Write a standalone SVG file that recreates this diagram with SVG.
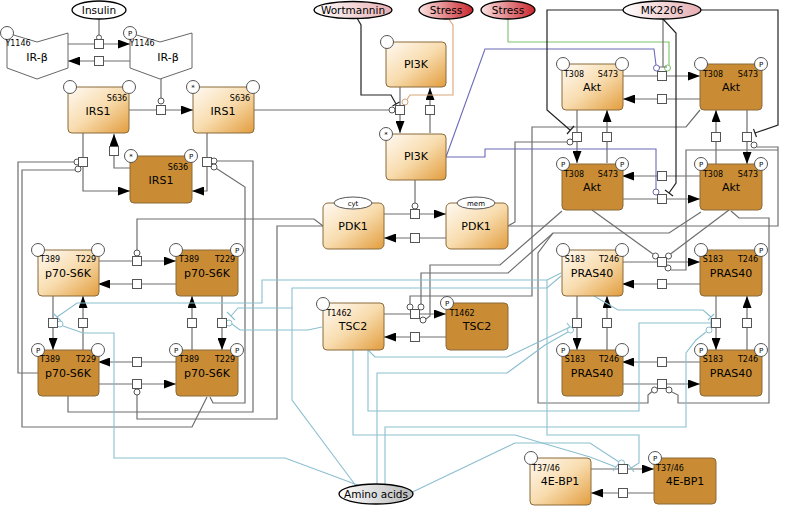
<svg xmlns="http://www.w3.org/2000/svg" width="786" height="514" viewBox="0 0 786 514">
<defs>
<linearGradient id="gl" x1="0" y1="0" x2="1" y2="1">
<stop offset="0" stop-color="#fffaf3"/><stop offset="0.5" stop-color="#f8dcae"/><stop offset="1" stop-color="#e29d3e"/>
</linearGradient>
<linearGradient id="gpink" x1="0" y1="0" x2="1" y2="0">
<stop offset="0" stop-color="#ffffff"/><stop offset="1" stop-color="#e6aeb2"/>
</linearGradient>
<linearGradient id="gred" x1="0" y1="0" x2="1" y2="0">
<stop offset="0" stop-color="#fbe4e4"/><stop offset="1" stop-color="#c9262d"/>
</linearGradient>
<linearGradient id="ggray" x1="0" y1="0" x2="1" y2="0">
<stop offset="0" stop-color="#ffffff"/><stop offset="1" stop-color="#b8b8b8"/>
</linearGradient>
<marker id="a" viewBox="0 0 12 9" refX="12" refY="4.5" markerWidth="12" markerHeight="9" markerUnits="userSpaceOnUse" orient="auto">
<path d="M0,0L12,4.5L0,9z" fill="#000"/>
</marker>
</defs>
<style>
.n{stroke:#8a6a3a;stroke-width:1}
.l{fill:url(#gl)}
.d{fill:#c98c35}
.sv{fill:#fff;stroke:#555;stroke-width:1}
.c{fill:none;stroke:#6e6e6e;stroke-width:1.2}
.k{fill:none;stroke:#222;stroke-width:1.2}
.b{fill:none;stroke:#8bbfd0;stroke-width:1.1}
.bl{fill:none;stroke:#6b6bb8;stroke-width:1.1}
.g{fill:none;stroke:#7cc16b;stroke-width:1.1}
.tn{fill:none;stroke:#d7a57a;stroke-width:1.1}
.ar{marker-end:url(#a)}
.pr{fill:#fff;stroke:#555;stroke-width:1}
.mc{fill:#fff;stroke:#555;stroke-width:1}
.mb{fill:#fff;stroke:#8bbfd0;stroke-width:1}
.t{font-family:"DejaVu Sans",sans-serif;font-size:11px;text-anchor:middle;fill:#000}
.el{font-family:"DejaVu Sans",sans-serif;font-size:10.5px;text-anchor:middle;fill:#000}
.s{font-family:"DejaVu Sans",sans-serif;font-size:8px;text-anchor:middle;fill:#000}
.p{font-family:"DejaVu Sans",sans-serif;font-size:7px;text-anchor:middle;fill:#000}
.e{stroke:#000;stroke-width:1.3}
</style>

<g id="connectors">
<!-- IR -->
<path class="c" d="M99,19V35"/><circle class="mc" cx="99" cy="37.5" r="2.5"/>
<path class="c ar" d="M68,44H130"/>
<path class="c ar" d="M130,61H68"/>
<!-- IRS1 -->
<path class="c" d="M161,79V98"/><circle class="mc" cx="161" cy="101" r="3"/>
<path class="c ar" d="M129,110H193"/>
<path class="c ar" d="M83,133V191H130"/>
<path class="c ar" d="M130,168H114V134"/>
<path class="c ar" d="M207,133V191H192"/>
<path class="c" d="M38,373H18V162H74"/><circle class="mc" cx="77" cy="162" r="3"/>
<path class="c" d="M207,397L192,427H22V170H75"/><circle class="mc" cx="78" cy="169" r="3"/>
<path class="c" d="M217,161H253V412H68V396"/><circle class="mc" cx="214" cy="161" r="3"/>
<path class="c" d="M216.5,168.5L245,187V403H213L210,397"/><circle class="mc" cx="214" cy="167" r="3"/>
<!-- PI3K -->
<path class="c" d="M254,110H389"/><circle class="mc" cx="392" cy="110" r="3"/>
<path class="c ar" d="M400,87V133"/>
<path class="c ar" d="M430,133V88"/>
<path class="k" d="M357,18L361,25V95H391L396,104M392.5,106L399.5,102"/>
<path class="tn" d="M448,18L453,25V95H410L407,99.5"/><circle cx="405" cy="102" r="3" fill="#fff" stroke="#d7a57a"/>
<!-- PDK1 -->
<path class="c" d="M415,180V203"/><circle class="mc" cx="415" cy="206" r="3"/>
<path class="c ar" d="M384,214H446"/>
<path class="c ar" d="M446,238H384"/>
<!-- p70 -->
<path class="c" d="M323,226L314,219H137V250"/><circle class="mc" cx="137" cy="253" r="3"/>
<path class="c" d="M323,226H277V419H137V395"/><circle class="mc" cx="137" cy="392" r="3"/>
<path class="c ar" d="M98,261H176"/>
<path class="c ar" d="M176,284H98"/>
<path class="c ar" d="M53,296V350"/>
<path class="c ar" d="M83,350V296"/>
<path class="c ar" d="M222,296V350"/>
<path class="c ar" d="M192,350V296"/>
<path class="c ar" d="M176,362H98"/>
<path class="c ar" d="M98,384H176"/>
<!-- TSC2 -->
<path class="c ar" d="M384,314H446"/>
<path class="c ar" d="M446,337H384"/>
<path class="c" d="M700,110L686,127H532V296H410V304"/><circle class="mc" cx="410" cy="307" r="3"/>
<path class="c" d="M701,212L669,233H553L508,273H421V304"/><circle class="mc" cx="421" cy="307" r="3"/>
<path class="c" d="M562,211L500,265H430V316L426,319"/><circle class="mc" cx="423" cy="320" r="3"/>
<!-- Akt -->
<path class="c ar" d="M622,76H700"/>
<path class="c ar" d="M700,99H623"/>
<path class="c ar" d="M577,110V163"/>
<path class="c ar" d="M607,163V110"/>
<path class="c ar" d="M747,110V164"/>
<path class="c ar" d="M716,164V110"/>
<path class="c ar" d="M700,176H622"/>
<path class="c ar" d="M622,199H700"/>
<path class="g" d="M508,19V42H669V65"/><circle cx="667.5" cy="68" r="3" fill="#fff" stroke="#7cc16b"/>
<path class="bl" d="M446,157L485,49H654L656,65"/><circle cx="656.5" cy="68" r="3" fill="#fff" stroke="#6b6bb8"/>
<path class="bl" d="M446,157H485V149H656V189"/><circle cx="656" cy="192" r="3" fill="#fff" stroke="#6b6bb8"/>
<path class="c" d="M663,19V67M659,67H667"/>
<path class="k" d="M623,10H547V110L570,130M567,134L574,126"/>
<path class="k" d="M663,19L676,33V183L669,193M665,190L673,196"/>
<path class="k" d="M701,10H778V125L755,133M753.5,129L756.5,137"/>
<path class="c" d="M508,226L515,222V142H567"/><circle class="mc" cx="570" cy="142" r="3"/>
<path class="c" d="M508,226H778V147H757"/><circle class="mc" cx="754" cy="145" r="3"/>
<!-- PRAS40 -->
<path class="c ar" d="M622,262H700"/>
<path class="c ar" d="M700,284H622"/>
<path class="c ar" d="M577,296V350"/>
<path class="c ar" d="M607,350V296"/>
<path class="c ar" d="M716,296V350"/>
<path class="c ar" d="M747,350V296"/>
<path class="c ar" d="M700,362H622"/>
<path class="c ar" d="M622,384H700"/>
<path class="c" d="M592,210L653,254"/><circle class="mc" cx="655.5" cy="256" r="3"/>
<path class="c" d="M729,210L670.5,254"/><circle class="mc" cx="668.5" cy="256" r="3"/>
<path class="c" d="M671,270H686V150H778"/><circle class="mc" cx="668" cy="268" r="3"/>
<path class="c" d="M731,211L739,218H769V403H678V395L671,391.5"/><circle class="mc" cx="669" cy="390" r="3"/>
<path class="c" d="M553,233L538,253V403H648V395L652,391.5"/><circle class="mc" cx="654.5" cy="390" r="3"/>
<!-- 4E-BP1 -->
<path class="c ar" d="M591,469H654"/>
<path class="c ar" d="M654,493H591"/>
<!-- amino acids / inhibitor blue lines -->
<path class="b" d="M363,487L285,458H114V333H83L63,326"/><circle class="mb" cx="60" cy="324" r="3"/>
<path class="b" d="M561,273L547,280H262V303H77L57,317M53,313L61,321"/>
<path class="b" d="M561,276L547,288H292V308H238L231,316M227,312L235,320"/>
<path class="b" d="M362,494L292,400V308"/>
<path class="b" d="M322,327L308,330H240L232,324"/><circle class="mb" cx="229" cy="323" r="3"/>
<path class="b" d="M353,350V435H515L590,457L616,467M613,471L619,463"/>
<path class="b" d="M368,350V411H639V323H711M711,319V327"/>
<path class="b" d="M368,350L375,357H507L570,327M567,323L573,331"/>
<path class="b" d="M377,490V373H507L545,345L568,332"/><circle class="mb" cx="570.5" cy="330" r="3"/>
<path class="b" d="M385,490V427H686V353L696,340L706,332"/><circle class="mb" cx="709" cy="330" r="3"/>
<path class="b" d="M594,296L618,310H703L711,317M708,320L714,314"/>
<path class="b" d="M402,497L515,443H590L619,462"/><circle class="mb" cx="621.5" cy="463" r="3"/>
<path class="b" d="M547,280V435H639V463L631,468M628,464L634,472"/>
<!-- process squares -->
<g class="pr">
<rect x="94.5" y="39.5" width="9" height="9"/><rect x="94.5" y="56.5" width="9" height="9"/>
<rect x="156.5" y="105.5" width="9" height="9"/><rect x="78.5" y="157.5" width="9" height="9"/>
<rect x="109.5" y="146.5" width="9" height="9"/><rect x="202.5" y="157.5" width="9" height="9"/>
<rect x="395.5" y="105.5" width="9" height="9"/><rect x="425.5" y="105.5" width="9" height="9"/>
<rect x="410.5" y="209.5" width="9" height="9"/><rect x="410.5" y="233.5" width="9" height="9"/>
<rect x="657.5" y="71.5" width="9" height="9"/><rect x="657.5" y="94.5" width="9" height="9"/>
<rect x="572.5" y="132.5" width="9" height="9"/><rect x="602.5" y="132.5" width="9" height="9"/>
<rect x="742.5" y="132.5" width="9" height="9"/><rect x="711.5" y="132.5" width="9" height="9"/>
<rect x="657.5" y="171.5" width="9" height="9"/><rect x="657.5" y="194.5" width="9" height="9"/>
<rect x="132.5" y="256.5" width="9" height="9"/><rect x="132.5" y="279.5" width="9" height="9"/>
<rect x="48.5" y="318.5" width="9" height="9"/><rect x="78.5" y="318.5" width="9" height="9"/>
<rect x="217.5" y="318.5" width="9" height="9"/><rect x="187.5" y="318.5" width="9" height="9"/>
<rect x="132.5" y="357.5" width="9" height="9"/><rect x="132.5" y="379.5" width="9" height="9"/>
<rect x="410.5" y="309.5" width="9" height="9"/><rect x="410.5" y="332.5" width="9" height="9"/>
<rect x="657.5" y="257.5" width="9" height="9"/><rect x="657.5" y="279.5" width="9" height="9"/>
<rect x="572.5" y="318.5" width="9" height="9"/><rect x="602.5" y="318.5" width="9" height="9"/>
<rect x="711.5" y="318.5" width="9" height="9"/><rect x="742.5" y="318.5" width="9" height="9"/>
<rect x="657.5" y="357.5" width="9" height="9"/><rect x="657.5" y="379.5" width="9" height="9"/>
<rect x="618.5" y="464.5" width="9" height="9"/><rect x="618.5" y="488.5" width="9" height="9"/>
</g>
</g>

<!-- stimuli / small molecules -->
<g id="insulin"><ellipse cx="99" cy="10" rx="27" ry="9" fill="#fff" class="e"/><text class="el" x="99" y="14">Insulin</text></g>
<g id="wortmannin"><ellipse cx="353" cy="10" rx="39" ry="8.5" fill="url(#gpink)" class="e"/><text class="el" x="353" y="14">Wortmannin</text></g>
<g id="stress1"><ellipse cx="446" cy="10" rx="27" ry="9" fill="url(#gred)" class="e"/><text class="el" x="446" y="14">Stress</text></g>
<g id="stress2"><ellipse cx="508" cy="10" rx="27" ry="9" fill="url(#gred)" class="e"/><text class="el" x="508" y="14">Stress</text></g>
<g id="mk2206"><ellipse cx="662" cy="10" rx="39" ry="9" fill="url(#gpink)" class="e"/><text class="el" x="662" y="14">MK2206</text></g>
<g id="aminoacids"><ellipse cx="376" cy="494" rx="37" ry="10" fill="url(#ggray)" class="e"/><text class="el" x="376" y="498">Amino acids</text></g>

<!-- IR-beta -->
<g id="irb1"><polygon points="7,33 37,42 68,33 68,68 37,79 7,68" fill="#fff" stroke="#666"/><circle class="sv" cx="7" cy="33" r="6.5"/><text class="s" x="18" y="46">Y1146</text><text class="t" x="37" y="61">IR-β</text></g>
<g id="irb2"><polygon points="130,33 160,42 192,33 192,68 160,79 130,68" fill="#fff" stroke="#666"/><circle class="sv" cx="130" cy="33" r="6.5"/><text class="p" x="130" y="35.5">P</text><text class="s" x="142" y="46">Y1146</text><text class="t" x="168" y="61">IR-β</text></g>

<!-- IRS1 -->
<g id="irs1a"><rect class="n l" x="68" y="87" width="61" height="46" rx="4"/><circle class="sv" cx="70" cy="87" r="6.5"/><circle class="sv" cx="129" cy="87" r="6.5"/><text class="s" x="117" y="101">S636</text><text class="t" x="98" y="115">IRS1</text></g>
<g id="irs1b"><rect class="n l" x="193" y="87" width="61" height="46" rx="4"/><circle class="sv" cx="193" cy="87" r="6.5"/><text class="p" x="193" y="90">*</text><circle class="sv" cx="253" cy="87" r="6.5"/><text class="s" x="240" y="101">S636</text><text class="t" x="223" y="115">IRS1</text></g>
<g id="irs1c"><rect class="n d" x="130" y="156" width="62" height="47" rx="4"/><circle class="sv" cx="131" cy="156" r="6.5"/><text class="p" x="131" y="159">*</text><circle class="sv" cx="191" cy="156" r="6.5"/><text class="p" x="191" y="158.5">P</text><text class="s" x="178" y="170">S636</text><text class="t" x="161" y="184">IRS1</text></g>

<!-- PI3K -->
<g id="pi3k1"><rect class="n l" x="386" y="42" width="60" height="45" rx="4"/><circle class="sv" cx="387" cy="42" r="6.5"/><text class="t" x="416" y="68">PI3K</text></g>
<g id="pi3k2"><rect class="n l" x="386" y="134" width="60" height="46" rx="4"/><circle class="sv" cx="386" cy="134" r="6.5"/><text class="p" x="386" y="137">*</text><text class="t" x="416" y="160">PI3K</text></g>

<!-- PDK1 -->
<g id="pdk1cyt"><rect class="n l" x="323" y="203" width="61" height="46" rx="5"/><ellipse cx="353" cy="203" rx="19" ry="6" fill="#fff" stroke="#555"/><text class="p" x="353" y="205.5">cyt</text><text class="t" x="353" y="230">PDK1</text></g>
<g id="pdk1mem"><rect class="n l" x="446" y="203" width="62" height="46" rx="5"/><ellipse cx="476" cy="203" rx="19" ry="6" fill="#fff" stroke="#555"/><text class="p" x="476" y="205.5">mem</text><text class="t" x="476" y="230">PDK1</text></g>

<!-- Akt -->
<g id="akt1"><rect class="n l" x="562" y="64" width="61" height="46" rx="4"/><circle class="sv" cx="563" cy="64" r="6.5"/><circle class="sv" cx="622" cy="64" r="6.5"/><text class="s" x="574" y="77">T308</text><text class="s" x="608" y="77">S473</text><text class="t" x="592" y="91">Akt</text></g>
<g id="akt2"><rect class="n d" x="700" y="64" width="62" height="46" rx="4"/><circle class="sv" cx="701" cy="64" r="6.5"/><circle class="sv" cx="761" cy="64" r="6.5"/><text class="p" x="761" y="66.5">P</text><text class="s" x="713" y="77">T308</text><text class="s" x="748" y="77">S473</text><text class="t" x="731" y="91">Akt</text></g>
<g id="akt3"><rect class="n d" x="562" y="164" width="61" height="46" rx="4"/><circle class="sv" cx="563" cy="164" r="6.5"/><text class="p" x="563" y="166.5">P</text><circle class="sv" cx="622" cy="164" r="6.5"/><text class="p" x="622" y="166.5">P</text><text class="s" x="574" y="177">T308</text><text class="s" x="608" y="177">S473</text><text class="t" x="592" y="191">Akt</text></g>
<g id="akt4"><rect class="n d" x="700" y="164" width="62" height="46" rx="4"/><circle class="sv" cx="701" cy="164" r="6.5"/><text class="p" x="701" y="166.5">P</text><circle class="sv" cx="761" cy="164" r="6.5"/><text class="p" x="761" y="166.5">P</text><text class="s" x="713" y="177">T308</text><text class="s" x="748" y="177">S473</text><text class="t" x="731" y="191">Akt</text></g>

<!-- p70-S6K -->
<g id="s6k1"><rect class="n l" x="38" y="250" width="61" height="46" rx="4"/><circle class="sv" cx="38" cy="250" r="6.5"/><circle class="sv" cx="98" cy="250" r="6.5"/><text class="s" x="50" y="262">T389</text><text class="s" x="86" y="262">T229</text><text class="t" x="68" y="277">p70-S6K</text></g>
<g id="s6k2"><rect class="n d" x="176" y="250" width="62" height="46" rx="4"/><circle class="sv" cx="176" cy="250" r="6.5"/><circle class="sv" cx="237" cy="250" r="6.5"/><text class="p" x="237" y="252.5">P</text><text class="s" x="189" y="262">T389</text><text class="s" x="225" y="262">T229</text><text class="t" x="207" y="277">p70-S6K</text></g>
<g id="s6k3"><rect class="n d" x="38" y="350" width="61" height="46" rx="4"/><circle class="sv" cx="38" cy="350" r="6.5"/><text class="p" x="38" y="352.5">P</text><circle class="sv" cx="98" cy="350" r="6.5"/><text class="s" x="50" y="362">T389</text><text class="s" x="86" y="362">T229</text><text class="t" x="68" y="377">p70-S6K</text></g>
<g id="s6k4"><rect class="n d" x="176" y="350" width="62" height="46" rx="4"/><circle class="sv" cx="176" cy="350" r="6.5"/><text class="p" x="176" y="352.5">P</text><circle class="sv" cx="237" cy="350" r="6.5"/><text class="p" x="237" y="352.5">P</text><text class="s" x="189" y="362">T389</text><text class="s" x="225" y="362">T229</text><text class="t" x="207" y="377">p70-S6K</text></g>

<!-- TSC2 -->
<g id="tsc2a"><rect class="n l" x="323" y="303" width="61" height="47" rx="4"/><circle class="sv" cx="323" cy="304" r="6.5"/><text class="s" x="339" y="316">T1462</text><text class="t" x="353" y="330">TSC2</text></g>
<g id="tsc2b"><rect class="n d" x="446" y="303" width="62" height="47" rx="4"/><circle class="sv" cx="447" cy="303" r="6.5"/><text class="p" x="447" y="305.5">P</text><text class="s" x="462" y="316">T1462</text><text class="t" x="477" y="330">TSC2</text></g>

<!-- PRAS40 -->
<g id="pras1"><rect class="n l" x="562" y="250" width="61" height="46" rx="4"/><circle class="sv" cx="563" cy="250" r="6.5"/><circle class="sv" cx="622" cy="250" r="6.5"/><text class="s" x="575" y="262">S183</text><text class="s" x="609" y="262">T246</text><text class="t" x="592" y="277">PRAS40</text></g>
<g id="pras2"><rect class="n d" x="700" y="250" width="62" height="46" rx="4"/><circle class="sv" cx="701" cy="250" r="6.5"/><circle class="sv" cx="761" cy="250" r="6.5"/><text class="p" x="761" y="252.5">P</text><text class="s" x="713" y="262">S183</text><text class="s" x="748" y="262">T246</text><text class="t" x="731" y="277">PRAS40</text></g>
<g id="pras3"><rect class="n d" x="562" y="350" width="61" height="46" rx="4"/><circle class="sv" cx="563" cy="350" r="6.5"/><text class="p" x="563" y="352.5">P</text><circle class="sv" cx="622" cy="350" r="6.5"/><text class="s" x="575" y="362">S183</text><text class="s" x="609" y="362">T246</text><text class="t" x="592" y="377">PRAS40</text></g>
<g id="pras4"><rect class="n d" x="700" y="350" width="62" height="46" rx="4"/><circle class="sv" cx="701" cy="350" r="6.5"/><text class="p" x="701" y="352.5">P</text><circle class="sv" cx="761" cy="350" r="6.5"/><text class="p" x="761" y="352.5">P</text><text class="s" x="713" y="362">S183</text><text class="s" x="748" y="362">T246</text><text class="t" x="731" y="377">PRAS40</text></g>

<!-- 4E-BP1 -->
<g id="bp1a"><rect class="n l" x="530" y="458" width="61" height="47" rx="4"/><circle class="sv" cx="531" cy="458" r="6.5"/><text class="s" x="546" y="471">T37/46</text><text class="t" x="560" y="485">4E-BP1</text></g>
<g id="bp1b"><rect class="n d" x="654" y="458" width="62" height="46" rx="4"/><circle class="sv" cx="655" cy="458" r="6.5"/><text class="p" x="655" y="460.5">P</text><text class="s" x="670" y="471">T37/46</text><text class="t" x="685" y="485">4E-BP1</text></g>
</svg>
